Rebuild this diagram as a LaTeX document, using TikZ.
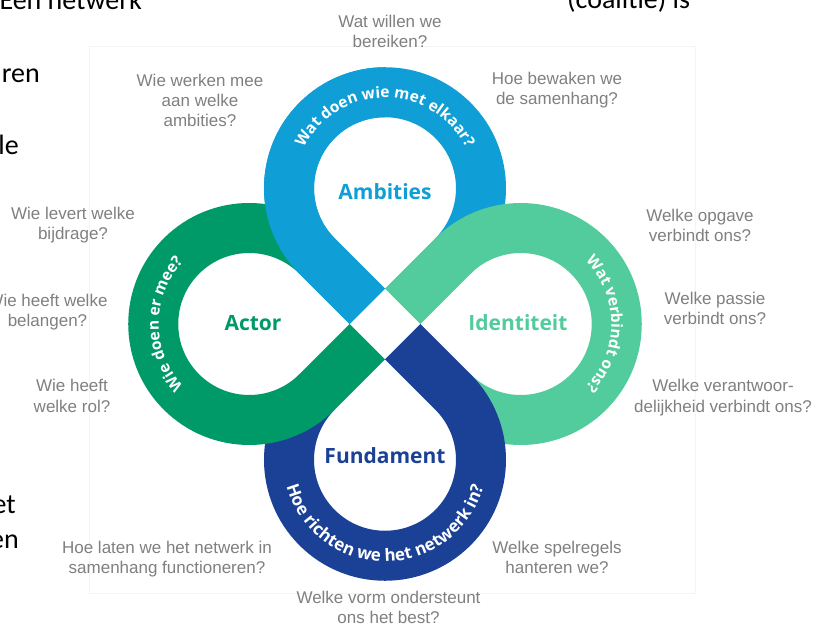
\documentclass[tikz,border=0pt]{standalone}
\usepackage{fontspec}
\setmainfont{Liberation Sans}
\newfontfamily\osans{Open Sans}
\newfontfamily\slidefont{Carlito}
\usetikzlibrary{decorations.text}
\definecolor{ambi}{RGB}{16,158,214}
\definecolor{actorc}{RGB}{0,154,104}
\definecolor{identc}{RGB}{82,204,156}
\definecolor{fundc}{RGB}{26,65,150}
\definecolor{qgray}{RGB}{128,128,128}
\definecolor{boxgray}{RGB}{244,244,244}
\newcommand{\curvefmt}{\osans\bfseries\fontsize{15.5}{15.5}\selectfont\color{white}}
\newcommand{\curvefmtb}{\osans\bfseries\fontsize{17}{17}\selectfont\color{white}}
\begin{document}
\begin{tikzpicture}[x=1pt,y=1pt,
  band/.style={line width=50pt, line cap=butt},
  question/.style={align=center, text=qgray, font=\fontsize{17}{20}\selectfont, inner sep=0pt, anchor=base},
  lobelabel/.style={font=\osans\bfseries\fontsize{21}{21}\selectfont, inner sep=0pt},
  slidetext/.style={font=\slidefont\fontsize{28}{28}\selectfont, text=black, inner sep=0pt},
  curved/.style={decorate, decoration={text along path, text align=center, text={|\curvefmt|#1}}},
  curvedb/.style={decorate, decoration={text along path, text align=center, text={|\curvefmtb|#1}}}
]
\useasboundingbox (-385,-302) rectangle (442,324);
\clip (-385,-302) rectangle (442,324);
\fill[white] (-385,-302) rectangle (442,324);

% slide text fragments
\node[slidetext, anchor=base east] (s1) at (-243,314) {Een netwerk};
\node[slidetext, anchor=base west] (s2) at (182,315) {(coalitie) is};
\node[slidetext, anchor=base east] (s3) at (-345,241) {ren};
\node[slidetext, anchor=base east] (s4) at (-366,169) {le};
\node[slidetext, anchor=base east] (s5) at (-369,-189) {et};
\node[slidetext, anchor=base east] (s6) at (-366,-224) {en};

% faint frame
\draw[boxgray, line width=1pt] (-295,277) rectangle (310,-269);

% lobe centres
\coordinate (C) at (0,0);
\coordinate (ctop) at (0,135.76);
\coordinate (cleft) at (-135.76,0);
\coordinate (cright) at (135.76,0);
\coordinate (cbot) at (0,-135.76);

% bands (cyclic overlap)
\draw[band, ambi] (-17.68,17.68) -- (-67.88,67.88) arc[start angle=225, end angle=-45, radius=96];
\draw[band, identc] (17.68,17.68) -- (67.88,67.88) arc[start angle=135, end angle=-135, radius=96];
\draw[band, fundc] (17.68,-17.68) -- (67.88,-67.88) arc[start angle=45, end angle=-225, radius=96];
\draw[band, actorc] (-17.68,-17.68) -- (-67.88,-67.88) arc[start angle=-45, end angle=-315, radius=96];
\begin{scope}
\clip (-400,0) rectangle (0,400);
\draw[band, ambi] (-17.68,17.68) -- (-67.88,67.88) arc[start angle=225, end angle=-45, radius=96];
\end{scope}

% curved texts
\path[curved={Wat doen wie met elkaar?}] ([shift={(160:90.5)}]ctop) arc[start angle=160, end angle=20, radius=90.5];
\path[curved={Wie doen er mee?}] ([shift={(245:90.5)}]cleft) arc[start angle=245, end angle=115, radius=90.5];
\path[curved={Wat verbindt ons?}] ([shift={(65:90.5)}]cright) arc[start angle=65, end angle=-65, radius=90.5];
\path[curvedb={Hoe richten we het netwerk in?}] ([shift={(186:102)}]cbot) arc[start angle=186, end angle=354, radius=102];

% lobe labels
\node[lobelabel, text=ambi] (lamb) at (0,132) {Ambities};
\node[lobelabel, text=actorc] (lact) at (-132,1) {Actor};
\node[lobelabel, text=identc] (lide) at (133,1) {Identiteit};
\node[lobelabel, text=fundc] (lfun) at (0,-132) {Fundament};

% questions (anchor = baseline of last line)
\node[question] (q1) at (5,276) {Wat willen we\\bereiken?};
\node[question] (q2) at (-185,197) {Wie werken mee\\aan welke\\ambities?};
\node[question] (q3) at (172,219) {Hoe bewaken we\\de samenhang?};
\node[question] (q4) at (-312,84) {Wie levert welke\\bijdrage?};
\node[question] (q5) at (-337.5,-3) {Wie heeft welke\\belangen?};
\node[question] (q6) at (-313,-88) {Wie heeft\\welke rol?};
\node[question] (q7) at (315,82) {Welke opgave\\verbindt ons?};
\node[question] (q8) at (330,-1) {Welke passie\\verbindt ons?};
\node[question] (q9) at (338,-88) {Welke verantwoor-\\delijkheid verbindt ons?};
\node[question] (q10) at (-218,-249) {Hoe laten we het netwerk in\\samenhang functioneren?};
\node[question] (q11) at (172,-249) {Welke spelregels\\hanteren we?};
\node[question] (q12) at (3.5,-299) {Welke vorm ondersteunt\\ons het best?};
\end{tikzpicture}
\end{document}
